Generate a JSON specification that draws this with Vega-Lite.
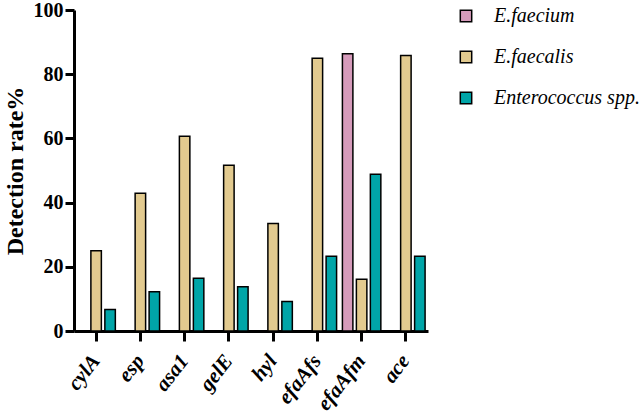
{
  "$schema": "https://vega.github.io/schema/vega-lite/v6.json",
  "autosize": {"type": "none"},
  "padding": {"left": 74, "top": 10, "right": 216, "bottom": 89},
  "width": 354,
  "height": 321,
  "background": "white",
  "data": {
    "values": [
      {"gene": "cylA", "species": "E.faecalis", "rate": 25.0},
      {"gene": "cylA", "species": "Enterococcus spp.", "rate": 6.7},
      {"gene": "esp", "species": "E.faecalis", "rate": 42.9},
      {"gene": "esp", "species": "Enterococcus spp.", "rate": 12.2},
      {"gene": "asa1", "species": "E.faecalis", "rate": 60.7},
      {"gene": "asa1", "species": "Enterococcus spp.", "rate": 16.4},
      {"gene": "gelE", "species": "E.faecalis", "rate": 51.6},
      {"gene": "gelE", "species": "Enterococcus spp.", "rate": 13.8},
      {"gene": "hyl", "species": "E.faecalis", "rate": 33.5},
      {"gene": "hyl", "species": "Enterococcus spp.", "rate": 9.2},
      {"gene": "efaAfs", "species": "E.faecalis", "rate": 85.0},
      {"gene": "efaAfs", "species": "Enterococcus spp.", "rate": 23.3},
      {"gene": "efaAfm", "species": "E.faecium", "rate": 86.4},
      {"gene": "efaAfm", "species": "E.faecalis", "rate": 16.1},
      {"gene": "efaAfm", "species": "Enterococcus spp.", "rate": 48.8},
      {"gene": "ace", "species": "E.faecalis", "rate": 85.8},
      {"gene": "ace", "species": "Enterococcus spp.", "rate": 23.3}
    ]
  },
  "mark": {"type": "bar", "stroke": "black", "strokeWidth": 1.5},
  "encoding": {
    "x": {
      "field": "gene", "type": "nominal",
      "sort": ["cylA", "esp", "asa1", "gelE", "hyl", "efaAfs", "efaAfm", "ace"],
      "scale": {"paddingInner": 0.1, "paddingOuter": 0.05},
      "axis": {
        "title": null,
        "labelAngle": -52,
        "labelAlign": "right",
        "labelBaseline": "middle",
        "labelFont": "'Liberation Serif', 'DejaVu Serif', serif",
        "labelFontStyle": "italic",
        "labelFontWeight": "bold",
        "labelFontSize": 21,
        "labelColor": "black",
        "labelPadding": 16,
        "domainColor": "black",
        "domainWidth": 3,
        "tickColor": "black",
        "tickWidth": 3,
        "tickSize": 10
      }
    },
    "xOffset": {
      "field": "species", "type": "nominal",
      "sort": ["E.faecium", "E.faecalis", "Enterococcus spp."],
      "scale": {"paddingInner": 0.25, "paddingOuter": 0.05}
    },
    "y": {
      "field": "rate", "type": "quantitative",
      "scale": {"domain": [0, 100]},
      "axis": {
        "title": "Detection rate%",
        "titleFont": "'Liberation Serif', 'DejaVu Serif', serif",
        "titleFontWeight": "bold",
        "titleFontSize": 24,
        "titleColor": "black",
        "titlePadding": 6,
        "values": [0, 20, 40, 60, 80, 100],
        "grid": false,
        "labelFont": "'Liberation Serif', 'DejaVu Serif', serif",
        "labelFontWeight": "bold",
        "labelFontSize": 20,
        "labelColor": "black",
        "labelPadding": 2,
        "domainColor": "black",
        "domainWidth": 3,
        "tickColor": "black",
        "tickWidth": 3,
        "tickSize": 9
      }
    },
    "color": {
      "field": "species", "type": "nominal",
      "sort": ["E.faecium", "E.faecalis", "Enterococcus spp."],
      "scale": {
        "domain": ["E.faecium", "E.faecalis", "Enterococcus spp."],
        "range": ["#D69BBB", "#E2CA8F", "#00A5A8"]
      },
      "legend": {
        "title": null,
        "orient": "none",
        "legendX": 382,
        "legendY": -4,
        "symbolType": "square",
        "symbolSize": 130,
        "symbolStrokeColor": "black",
        "symbolStrokeWidth": 1.5,
        "labelFont": "'Liberation Serif', 'DejaVu Serif', serif",
        "labelFontStyle": "italic",
        "labelFontSize": 20,
        "labelColor": "black",
        "labelLimit": 300,
        "labelOffset": 18,
        "rowPadding": 21
      }
    }
  },
  "config": {"view": {"stroke": null}}
}
